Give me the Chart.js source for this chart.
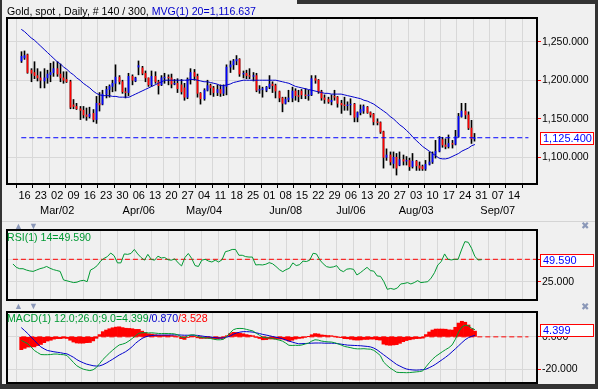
<!DOCTYPE html>
<html><head><meta charset="utf-8">
<script src="https://cdn.jsdelivr.net/npm/chart.js@4.4.1/dist/chart.umd.min.js"></script>
<style>
html,body{margin:0;padding:0;background:#f0f0f0;}
#wrap{position:relative;width:598px;height:389px;overflow:hidden;background:#f0f0f0;font-family:"Liberation Sans",Arial,sans-serif;}
canvas{position:absolute;left:0;}
.lbl{position:absolute;font-size:10.6px;line-height:13px;white-space:nowrap;}
.bar{position:absolute;background:#333;}
.sep{position:absolute;background:#d4d4d4;height:1px;left:2px;width:593px;}
.ic{position:absolute;font-size:9px;line-height:9px;color:#8b98b8;}
</style></head><body>
<div id="wrap">
<canvas id="cP" width="598" height="222" style="top:0px"></canvas>
<canvas id="cR" width="598" height="72" style="top:229px"></canvas>
<canvas id="cM" width="598" height="73" style="top:311px"></canvas>
<div class="sep" style="top:221px"></div>
<div class="bar" style="left:0;top:0;width:2px;height:389px"></div>
<div class="bar" style="left:595px;top:0;width:3px;height:389px"></div>
<div class="bar" style="left:297px;top:0;width:301px;height:4px"></div>
<div class="bar" style="left:0;top:384px;width:598px;height:5px"></div>
<div class="lbl" style="left:7px;top:5px">Gold, spot , Daily, # 140 / 300, <span style="color:#0000cc">MVG(1) 20=1,116.637</span></div>
<div class="lbl" style="left:7px;top:231px;color:#009933">RSI(1) 14=49.590</div>
<div class="lbl" style="left:7px;top:312px"><span style="color:#009933">MACD(1) 12.0;26.0;9.0=4.399</span><span style="color:#0000cc">/0.870</span><span style="color:#ff0000">/3.528</span></div>
<div class="ic" style="left:14px;top:222px">▲</div><div class="ic" style="left:29px;top:222px">▼</div>
<div class="ic" style="left:581px;top:221px;font-size:10px">✖</div>
<div class="ic" style="left:14px;top:302px">▲</div><div class="ic" style="left:29px;top:302px">▼</div>
<div class="ic" style="left:581px;top:302px;font-size:10px">✖</div>
</div>
<script>
const weekLabels = ['16','23','02','09','16','23','30','06','13','20','27','04','11','18','25','01','08','15','22','29','06','13','20','27','03','10','17','24','31','07','14'];
const monthLabels = ['','','Mar/02','','','','','Apr/06','','','','May/04','','','','','Jun/08','','','','Jul/06','','','','Aug/03','','','','','Sep/07',''];

const opens = [1225,1229,1233,1213,1210,1206,1203,1199,1203,1207,1210,1215,1208,1203,1201,1198,1168,1166,1163,1161,1155,1153,1157,1149,1170,1169,1182,1188,1192,1196,1204,1198,1185,1184,1205,1199,1217,1216,1209,1203,1194,1205,1198,1194,1203,1204,1203,1195,1196,1194,1190,1178,1201,1210,1205,1183,1176,1187,1193,1190,1184,1188,1183,1192,1217,1220,1225,1227,1208,1209,1206,1205,1206,1187,1188,1187,1191,1195,1193,1185,1177,1170,1175,1177,1186,1180,1186,1181,1180,1181,1202,1200,1185,1177,1175,1172,1179,1178,1170,1168,1167,1168,1169,1152,1158,1160,1165,1158,1156,1146,1145,1133,1100,1103,1092,1100,1090,1097,1095,1096,1088,1095,1089,1088,1085,1091,1094,1104,1108,1123,1116,1114,1118,1117,1127,1153,1160,1155,1138,1124];
const highs = [1237,1238,1234,1215,1224,1215,1211,1215,1213,1222,1224,1224,1221,1211,1211,1200,1175,1170,1166,1166,1164,1165,1162,1179,1184,1187,1192,1194,1200,1220,1206,1200,1190,1209,1207,1204,1225,1218,1212,1203,1212,1211,1200,1206,1209,1207,1208,1201,1202,1201,1196,1203,1215,1214,1208,1184,1189,1200,1195,1192,1194,1194,1194,1220,1225,1227,1232,1228,1212,1213,1215,1210,1209,1193,1191,1192,1206,1198,1195,1186,1178,1178,1187,1191,1189,1187,1188,1189,1187,1206,1206,1201,1187,1181,1178,1181,1187,1179,1174,1178,1172,1176,1170,1159,1168,1168,1166,1159,1157,1150,1146,1134,1111,1107,1107,1105,1107,1103,1101,1099,1105,1096,1094,1090,1096,1107,1107,1122,1127,1126,1124,1129,1122,1135,1157,1170,1170,1159,1148,1131];
const lows = [1223,1227,1209,1198,1202,1199,1190,1190,1196,1198,1205,1205,1198,1196,1197,1163,1163,1162,1149,1151,1148,1151,1146,1144,1160,1168,1177,1178,1185,1186,1195,1183,1177,1180,1194,1198,1207,1207,1198,1192,1192,1196,1182,1193,1196,1194,1190,1194,1184,1182,1174,1176,1195,1200,1178,1169,1174,1186,1181,1179,1180,1179,1180,1181,1210,1214,1220,1205,1203,1202,1202,1199,1185,1183,1178,1185,1189,1184,1177,1172,1159,1169,1172,1172,1174,1172,1176,1176,1174,1180,1196,1183,1174,1170,1170,1168,1174,1165,1157,1161,1161,1155,1146,1146,1155,1157,1157,1152,1142,1142,1131,1086,1096,1090,1086,1077,1089,1090,1090,1083,1086,1083,1083,1083,1083,1090,1092,1099,1107,1113,1111,1112,1112,1116,1126,1152,1150,1136,1118,1121];
const closes = [1231,1232,1210,1209,1206,1203,1200,1203,1208,1210,1215,1208,1203,1200,1198,1165,1166,1163,1161,1155,1153,1156,1149,1170,1168,1182,1188,1192,1196,1204,1198,1185,1184,1205,1200,1203,1219,1209,1203,1194,1205,1198,1193,1203,1204,1203,1195,1196,1189,1185,1178,1201,1210,1205,1183,1176,1187,1193,1190,1184,1188,1183,1192,1217,1220,1225,1227,1208,1209,1206,1205,1206,1187,1188,1189,1191,1195,1193,1186,1177,1170,1175,1177,1186,1180,1179,1181,1180,1181,1202,1200,1185,1177,1175,1172,1174,1178,1170,1168,1167,1168,1169,1152,1158,1162,1166,1158,1155,1146,1145,1133,1100,1103,1094,1100,1086,1097,1095,1096,1088,1095,1089,1086,1085,1091,1094,1104,1108,1123,1116,1114,1118,1117,1127,1153,1160,1155,1138,1124,1125.4];
const ma20 = [1266,1263,1259,1255,1252,1248,1244,1240,1236,1232,1228,1224,1221,1217,1214,1210,1207,1203,1200,1196,1193,1190,1186,1183,1181,1180,1180,1180,1179,1179,1178,1178,1178,1178,1180,1182,1184,1186,1188,1190,1192,1194,1196,1198,1200,1200,1200,1200,1200,1200,1200,1200,1201,1201,1200,1199,1198,1198,1197,1196,1195,1193,1193,1194,1195,1197,1198,1199,1200,1200,1200,1200,1200,1200,1200,1200,1200,1200,1200,1199,1198,1197,1196,1194,1192,1191,1190,1189,1188,1187,1186,1185,1184,1183,1183,1182,1182,1182,1182,1181,1180,1179,1178,1177,1176,1174,1173,1171,1169,1166,1163,1160,1157,1153,1150,1146,1142,1139,1135,1131,1126,1122,1118,1114,1111,1108,1105,1102,1099,1098,1098,1099,1101,1103,1105,1108,1110,1112,1115,1116.637];
const rsi14 = [44.8,41,39.5,39.5,38,37,36.5,38,39.5,40.5,42,40,38.5,37.5,36.5,27,26,25,24,24.5,26,26.5,25,38,40,43,48,51,53,57,54,46,46,56,55.5,56.5,61,56,52,49,55.5,50,49,53.5,51.5,52,49.5,49,50.5,46,42.6,52,56.5,51,43,42,49,50,48,47,49,47,49.5,58.5,59.5,61,61,54.5,54.5,53,52.5,52.5,43.7,44,43.7,44.5,46.3,45,42,38.5,36.2,38.5,40,46,43,44,48,47.5,49,56.7,56,49.3,45,41.8,41,41.5,42.9,38,36.2,39,39.5,38.8,32.5,35,38,41,37.4,36.8,31.4,31,25,16.5,17.5,16.5,18,22.5,23,24,22.5,24,26.2,24,24.5,25,29,35,43.7,47.4,56,50,49.3,50,50,60.4,69.7,69,62.3,53,49.3,49.59];
const macdLine = [-2.2,-3.2,-4.3,-6.3,-8.4,-9.7,-10.9,-11,-11,-10.9,-10.6,-10.6,-10.9,-11,-11.5,-13.6,-15.8,-17.8,-19,-19.9,-20.4,-20.8,-20.3,-18.9,-16.5,-14,-12,-10,-8.2,-6.5,-5,-4.5,-3.8,-2.5,-1,0.6,2.2,2.5,2.6,2.4,2.5,2.3,2.1,2,2.1,2,2,1.8,1.2,0,-0.6,0.6,1.2,1.2,0.3,-0.4,-0.6,-0.8,-1,-1.5,-1.8,-1.8,-1.5,0.5,2.5,4.4,5.1,5.2,5.1,4.6,4.1,3.6,2.2,1,-0.3,-0.6,-0.6,-1.1,-1.5,-2,-2.6,-3.8,-5.2,-5.3,-5.2,-5.3,-5,-4.4,-3.9,-2.6,-1.8,-2,-2.6,-2.9,-3.1,-3.2,-3.6,-4.3,-5,-5.9,-6.3,-6.7,-7.2,-7.4,-7.4,-7.3,-7.5,-7.6,-8.3,-9.8,-11.5,-15.5,-17.5,-19.2,-20.5,-21.8,-22,-22,-22.1,-22,-21.8,-21.6,-21.4,-21,-18.5,-16,-13.8,-12,-10.6,-9.2,-7.9,-6.7,-5,-1.5,3,6,7.2,6.8,5.3,4.399];
const signalLine = [5.7,3.9,2,-0.1,-2.2,-4.3,-6.2,-7.4,-8.4,-8.8,-9.2,-9.5,-9.8,-10.2,-10.5,-11.5,-12.6,-14,-15.1,-16,-16.8,-17.3,-17.8,-18,-17.9,-17.2,-16.2,-15,-13.8,-12.5,-11.2,-10.2,-9.1,-7.7,-6,-4,-2.4,-1,0,0.5,0.8,1,1.1,1.1,1.1,1.1,1.2,1.2,1.2,1.1,1,1,1,1,0.9,0.6,0.3,0.1,-0.1,-0.4,-0.6,-0.8,-0.6,-0.2,0.5,1.6,2.4,2.9,3.2,3.2,3.1,2.9,2.5,2,1.5,1.1,0.7,0.2,-0.2,-0.6,-1.2,-1.9,-2.6,-3.2,-3.8,-4.3,-4.2,-4.1,-4,-3.9,-3.8,-3.8,-3.8,-3.9,-3.9,-3.9,-4,-4.2,-4.5,-4.8,-5.1,-5.2,-5.3,-5.4,-5.5,-5.7,-5.9,-6.2,-6.9,-8,-9.5,-11,-12.5,-14,-15.5,-17,-18,-19,-19.8,-20.2,-20.4,-20.5,-20.4,-20.2,-19.9,-19,-18,-16.8,-15.4,-14,-12.6,-11,-9.2,-7.4,-5.5,-3.6,-1.8,-0.5,0.3,0.87];
const macdHist = [-7.9,-7.1,-6.3,-6.2,-6.2,-5.4,-4.7,-3.6,-2.6,-2.1,-1.4,-1.1,-1.1,-0.8,-1,-2.1,-3.2,-3.8,-3.9,-3.9,-3.6,-3.5,-2.5,-0.9,1.4,3.2,4.2,5,5.6,6,6.2,5.7,5.3,5.2,5,4.6,4.6,3.5,2.6,1.9,1.7,1.3,1,0.9,1,0.9,0.8,0.6,0,-1.1,-1.6,-0.4,0.2,0.2,-0.6,-1,-0.9,-0.9,-0.9,-1.1,-1.2,-1,-0.9,0.7,2,2.8,2.7,2.3,1.9,1.4,1,0.7,-0.3,-1,-1.8,-1.7,-1.3,-1.3,-1.3,-1.4,-1.4,-1.9,-2.6,-2.1,-1.4,-1,-0.8,-0.3,0.1,1.3,2,1.8,1.2,1,0.8,0.7,0.4,-0.1,-0.5,-1.1,-1.2,-1.5,-1.9,-2,-1.9,-1.6,-1.6,-1.4,-1.4,-1.8,-2,-4.5,-5,-5.2,-5,-4.8,-4,-3,-2.3,-1.8,-1.4,-1.1,-1,-0.8,1.4,3,4.2,4.8,4.8,4.8,4.7,4.3,4.2,5.9,8.5,9.6,9,7.3,5,3.529];

const priceTicks = [1100,1150,1200,1250];
const rsiTicks = [25,50];
const macdTicks = [-20,0];
const lastClose = 1125.4, lastRsi = 49.59, lastMacd = 4.399;
const rsiMid = 50, macdZero = 0;

const FONT = '"Liberation Sans", Arial, sans-serif';
const X_MIN = -1.76, X_MAX = 155.4;
const fmt3 = v => v.toLocaleString('en-US',{minimumFractionDigits:3,maximumFractionDigits:3});

const framePlugin = { id:'frame', afterDraw(c){ const a=c.chartArea, ctx=c.ctx; ctx.save(); ctx.strokeStyle='#000'; ctx.lineWidth=2; ctx.strokeRect(a.left,a.top,a.right-a.left,a.bottom-a.top); ctx.restore(); } };
const boxPlugin = { id:'vbox', afterDraw(c, args, o){ if(o.value===undefined) return; const y=Math.round(c.scales.y.getPixelForValue(o.value)); const ctx=c.ctx; ctx.save(); ctx.fillStyle='#fff'; ctx.fillRect(540,y-6,54,13); ctx.strokeStyle='#ff0000'; ctx.lineWidth=1; ctx.strokeRect(540.5,y-5.5,53,12); ctx.fillStyle='#0000ff'; ctx.font='11px '+FONT; ctx.textBaseline='middle'; ctx.fillText(o.text,543,y+0.5); ctx.restore(); } };
const snapPlugin = { id:'snap', beforeDatasetsDraw(c){ c.data.datasets.forEach((ds,di)=>{ if(!ds.snap) return; c.getDatasetMeta(di).data.forEach(el=>{ el.x = Math.floor(el.x)+0.5; }); }); } };

function xAxis(showLabels, h){
  return { type:'linear', min:X_MIN, max:X_MAX,
    afterBuildTicks: s => { s.ticks = weekLabels.map((_,k)=>({value:1+5*k})); },
    ticks:{ display:showLabels, autoSkip:false, maxRotation:0, minRotation:0, padding:0.5, color:'#000', font:{size:11,family:FONT,lineHeight:'15px'},
      callback:(v)=>{ const k=Math.round((v-1)/5); return monthLabels[k] ? [weekLabels[k],monthLabels[k]] : [weekLabels[k]]; } },
    grid:{ color:'#d8d8d8', lineWidth:1, drawTicks:showLabels, tickLength:4, tickColor:'#000' },
    border:{display:false},
    afterFit: s => { s.height = h; s.paddingLeft = 0; s.paddingRight = 0; } };
}
function yAxis(min,max,ticks){
  return { type:'linear', position:'right', min, max,
    afterBuildTicks: s => { s.ticks = ticks.map(v=>({value:v})); },
    ticks:{ padding:1, color:'#000', font:{size:10.5,family:FONT}, callback:v=>fmt3(v) },
    grid:{ color:'#d8d8d8', lineWidth:1, tickLength:4, tickColor:'#ff0000' },
    border:{display:false},
    afterFit: s => { s.width = 61; s.paddingTop = 0; s.paddingBottom = 0; } };
}
const base = { responsive:false, animation:false, events:[], plugins:{legend:{display:false},tooltip:{enabled:false}} };

new Chart(document.getElementById('cP'), {
  type:'bar',
  data:{ datasets:[
    { type:'line', data:ma20.map((v,i)=>({x:i,y:v})), borderColor:'#0000cc', borderWidth:1, pointRadius:0, order:0 },
    { type:'line', data:[{x:0,y:lastClose},{x:X_MAX,y:lastClose}], borderColor:'#0000ff', borderWidth:1, borderDash:[5,3], pointRadius:0, order:0 },
    { type:'bar', snap:true, data:opens.map((o,i)=>({x:i,y:[o,closes[i]]})), backgroundColor:opens.map((o,i)=>closes[i]>=o?'#0000ff':'#ff0000'), barThickness:1, grouped:false, order:1 },
    { type:'bar', snap:true, data:highs.map((h,i)=>({x:i,y:[lows[i],h]})), backgroundColor:'#000', barThickness:1, grouped:false, order:2 }
  ]},
  options:Object.assign({}, base, { layout:{padding:{left:7,top:18,right:0,bottom:0}},
    scales:{ x:xAxis(true,38), y:yAxis(1065.4,1280.7,priceTicks) },
    plugins:Object.assign({}, base.plugins, { vbox:{value:lastClose,text:fmt3(lastClose)} }) }),
  plugins:[snapPlugin, framePlugin, boxPlugin]
});

new Chart(document.getElementById('cR'), {
  type:'line',
  data:{ datasets:[
    { data:rsi14.map((v,i)=>({x:i,y:v})), borderColor:'#009933', borderWidth:1, pointRadius:0 },
    { data:[{x:0,y:rsiMid},{x:X_MAX,y:rsiMid}], borderColor:'#ff0000', borderWidth:1, borderDash:[5,3], pointRadius:0 }
  ]},
  options:Object.assign({}, base, { layout:{padding:{left:7,top:1,right:0,bottom:0}},
    scales:{ x:xAxis(false,1), y:yAxis(4.58,82.7,rsiTicks) },
    plugins:Object.assign({}, base.plugins, { vbox:{value:lastRsi,text:fmt3(lastRsi)} }) }),
  plugins:[framePlugin, boxPlugin]
});

new Chart(document.getElementById('cM'), {
  type:'bar',
  data:{ datasets:[
    { type:'line', data:macdLine.map((v,i)=>({x:i,y:v})), borderColor:'#009933', borderWidth:1, pointRadius:0, order:0 },
    { type:'line', data:signalLine.map((v,i)=>({x:i,y:v})), borderColor:'#0000cc', borderWidth:1, pointRadius:0, order:0 },
    { type:'line', data:[{x:0,y:macdZero},{x:X_MAX,y:macdZero}], borderColor:'#ff0000', borderWidth:1, borderDash:[5,3], pointRadius:0, order:2 },
    { type:'bar', data:macdHist.map((v,i)=>({x:i,y:v})), backgroundColor:'#ff0000', barPercentage:1, categoryPercentage:1, order:1 }
  ]},
  options:Object.assign({}, base, { layout:{padding:{left:7,top:1,right:0,bottom:0}},
    scales:{ x:xAxis(false,1), y:yAxis(-28.44,15.31,macdTicks) },
    plugins:Object.assign({}, base.plugins, { vbox:{value:lastMacd,text:fmt3(lastMacd)} }) }),
  plugins:[framePlugin, boxPlugin]
});
</script>
</body></html>
